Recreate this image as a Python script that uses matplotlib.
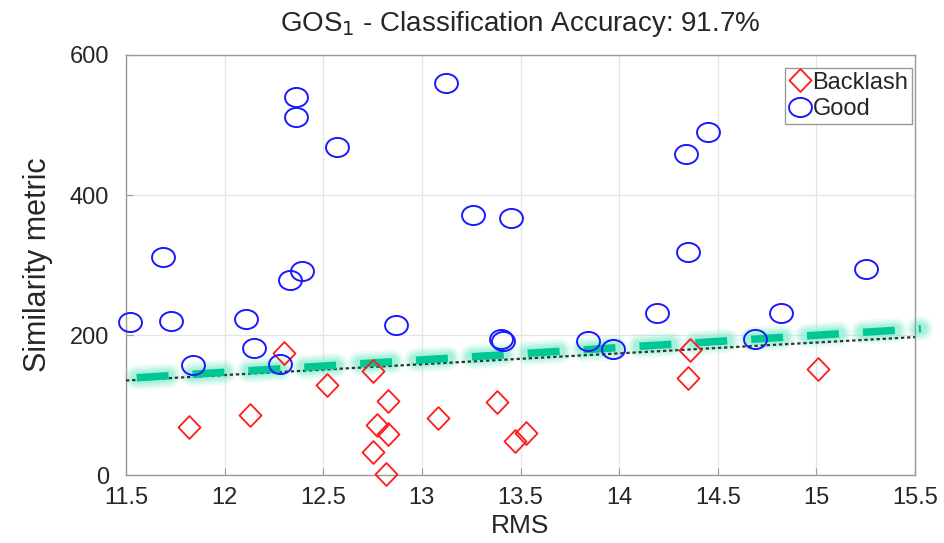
import matplotlib
matplotlib.use("Agg")
import matplotlib.pyplot as plt
import numpy as np
from matplotlib.path import Path
from matplotlib.transforms import Affine2D

plt.rcParams['font.family'] = ['Liberation Sans', 'DejaVu Sans']
plt.rcParams['lines.scale_dashes'] = False

# ---- data ----
good_x = [12.36, 12.36, 12.57, 13.12, 13.26, 13.45, 11.69, 12.39, 12.33,
          14.45, 14.34, 14.35, 15.25, 11.52, 11.73, 12.11, 12.15, 11.84,
          12.28, 12.87, 13.40, 13.41, 14.19, 14.82, 13.84, 13.97, 14.69]
good_y = [540, 511, 469, 560, 372, 367, 311, 292, 279,
          490, 458, 319, 294, 219, 220, 223, 182, 157,
          159, 215, 195, 191, 232, 232, 191, 180, 195]

back_x = [11.82, 12.13, 12.30, 12.52, 12.75, 12.83, 12.77, 12.83, 12.75,
          12.82, 13.08, 13.38, 13.47, 13.53, 14.36, 14.35, 15.01]
back_y = [69, 86, 175, 129, 148, 106, 71, 59, 33,
          2, 81, 105, 49, 60, 179, 138, 152]

fit_x = [11.5, 15.5]
fit_y = [135, 197]
thr_x = [11.5, 15.53]
thr_y = [138, 209]

xticks = [11.5, 12, 12.5, 13, 13.5, 14, 14.5, 15, 15.5]
xticklabels = ['11.5', '12', '12.5', '13', '13.5', '14', '14.5', '15', '15.5']
yticks = [0, 200, 400, 600]

# ---- markers ----
ellipse = Path.unit_circle().transformed(Affine2D().scale(1.2, 1.0))
diamond = Path([(0, 1), (0.96, 0), (0, -1), (-0.96, 0), (0, 1)],
               [Path.MOVETO, Path.LINETO, Path.LINETO, Path.LINETO, Path.CLOSEPOLY])

fig = plt.figure(figsize=(9.45, 5.43), dpi=100)
ax = fig.add_axes([126/945, 1-475/543, (915-126)/945, (475-55)/543])

ax.grid(True, color='#e4e4e4', linewidth=0.9)
ax.set_axisbelow(True)

# threshold line with glow
period_on, period_off = 23.0, 17.3
offset = period_on + period_off - 7.7
for lw, a in [(18, 0.12), (15, 0.18), (12, 0.26), (9, 0.35)]:
    ax.plot(thr_x, thr_y, color='#7aeccb', lw=lw, alpha=a,
            linestyle=(offset, (period_on, period_off)),
            solid_capstyle='round', dash_capstyle='round', clip_on=False, zorder=2)
ax.plot(fit_x, fit_y, color='#333333', lw=1.6, linestyle=(0, (2.4, 2.0)), zorder=3)
ax.plot(thr_x, thr_y, color='#00c894', lw=5.4,
        linestyle=(offset, (period_on, period_off)), dash_capstyle='butt',
        clip_on=False, zorder=4)

ax.plot(back_x, back_y, linestyle='none', marker=diamond, markersize=16.5,
        mfc='none', mec='#ff1a1a', mew=1.3, label='Backlash', zorder=5, clip_on=False)
ax.plot(good_x, good_y, linestyle='none', marker=ellipse, markersize=16.5,
        mfc='none', mec='#1a1aff', mew=1.4, label='Good', zorder=5, clip_on=False)

ax.set_xlim(11.5, 15.5)
ax.set_ylim(0, 600)
ax.set_xticks(xticks)
ax.set_xticklabels(xticklabels)
ax.set_yticks(yticks)
ax.tick_params(direction='in', length=5, width=0.8, colors='#9a9a9a',
               labelcolor='#262626', labelsize=17)
ax.tick_params(axis='x', pad=9)
ax.tick_params(axis='y', pad=12)
for s in ax.spines.values():
    s.set_color('#9a9a9a')
    s.set_linewidth(1.0)

ax.set_xlabel('RMS', fontsize=19, color='#262626', labelpad=3)
ax.set_ylabel('Similarity metric', fontsize=22, color='#262626', labelpad=12)
ax.set_title('GOS$_1$ - Classification Accuracy: 91.7%', fontsize=20,
             color='#262626', pad=17)

leg = ax.legend(loc='upper right', fontsize=17, handlelength=0.95,
                handletextpad=0.05, borderpad=0.15, labelspacing=0.2,
                bbox_to_anchor=((912-126)/789, (475-68)/420), borderaxespad=0,
                fancybox=False, framealpha=1, edgecolor='#9a9a9a')
for t in leg.get_texts():
    t.set_color('#262626')

fig.savefig('out.png', dpi=100)
